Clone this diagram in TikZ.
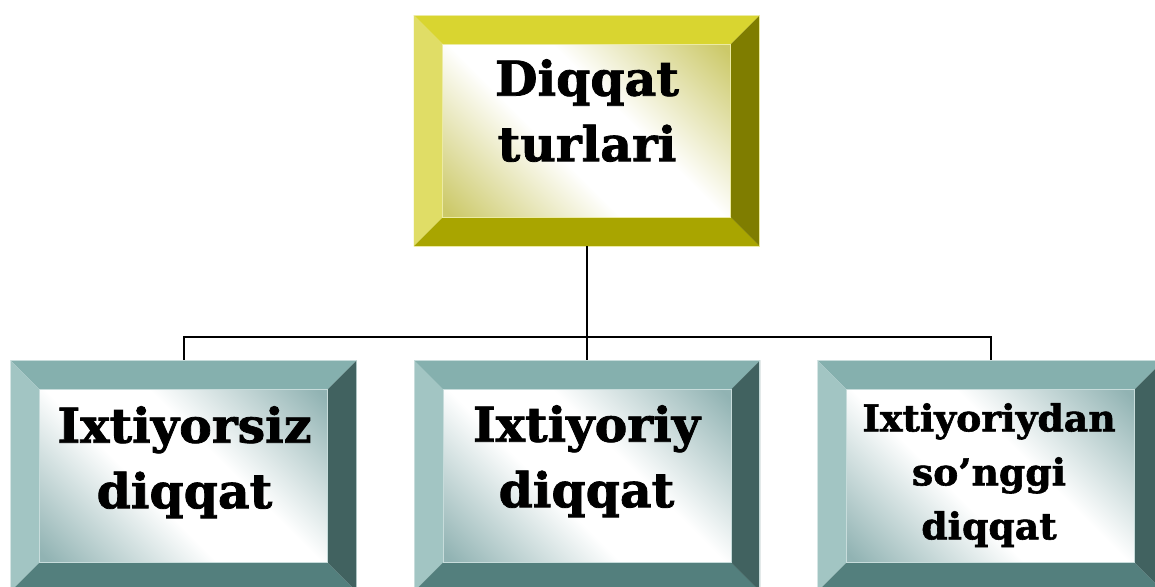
\documentclass[tikz,border=0pt]{standalone}
\usepackage{fontspec}
\setmainfont{DejaVu Serif}[BoldFeatures={FakeBold=1.6,FakeStretch=1.02}]
\definecolor{yTop}{RGB}{217,213,48}
\definecolor{yLeft}{RGB}{224,221,102}
\definecolor{yBot}{RGB}{169,165,0}
\definecolor{yRight}{RGB}{127,125,0}
\definecolor{yTint}{RGB}{204,201,105}
\definecolor{tTop}{RGB}{133,176,174}
\definecolor{tLeft}{RGB}{162,197,195}
\definecolor{tBot}{RGB}{83,127,125}
\definecolor{tRight}{RGB}{65,98,96}
\definecolor{tTint}{RGB}{145,179,179}
\pgfdeclareverticalshading{yface}{100bp}{color(0bp)=(yTint); color(16bp)=(yTint); color(42bp)=(white); color(58bp)=(white); color(84bp)=(yTint); color(100bp)=(yTint)}
\pgfdeclareverticalshading{tface}{100bp}{color(0bp)=(tTint); color(16bp)=(tTint); color(42bp)=(white); color(58bp)=(white); color(84bp)=(tTint); color(100bp)=(tTint)}
\tikzset{
  bevelbox/.style n args={5}{
    rectangle, minimum width=346pt, minimum height=231pt, inner sep=0pt, outer sep=0pt,
    path picture={
      \path (path picture bounding box.north west) coordinate (pNW)
            (path picture bounding box.north east) coordinate (pNE)
            (path picture bounding box.south west) coordinate (pSW)
            (path picture bounding box.south east) coordinate (pSE);
      \fill[#1] (pNW) -- (pNE) -- ([shift={(-29,-29)}]pNE) -- ([shift={(29,-29)}]pNW) -- cycle;
      \fill[#2] (pNW) -- ([shift={(29,-29)}]pNW) -- ([shift={(29,29)}]pSW) -- (pSW) -- cycle;
      \fill[#3] (pSW) -- ([shift={(29,29)}]pSW) -- ([shift={(-29,29)}]pSE) -- (pSE) -- cycle;
      \fill[#4] (pSE) -- ([shift={(-29,29)}]pSE) -- ([shift={(-29,-29)}]pNE) -- (pNE) -- cycle;
      \shade[shading=#5, shading angle=-45]
            ([shift={(29,-29)}]pNW) rectangle ([shift={(-29,29)}]pSE);
      \draw[#2!60!white, line width=0.8pt] ([shift={(29,-29)}]pNW) rectangle ([shift={(-29,29)}]pSE);
      \draw[#2!60!white, line width=1.2pt] (pNW) rectangle (pSE);
    }
  },
  yellowbox/.style={bevelbox={yTop}{yLeft}{yBot}{yRight}{yface}},
  tealbox/.style={bevelbox={tTop}{tLeft}{tBot}{tRight}{tface}},
  bigtext/.style={font=\bfseries\fontsize{48}{65.5}\selectfont, align=center, inner sep=0pt, anchor=north},
  smalltext/.style={font=\bfseries\fontsize{37}{54}\selectfont, align=center, inner sep=0pt, anchor=north},
  conn/.style={draw=black, line width=2pt}
}
\begin{document}
\begin{tikzpicture}[x=1pt,y=1pt]
\useasboundingbox (0,0) rectangle (1155,586);
\clip (0,0) rectangle (1155,586);
\node[yellowbox] (top) at (586.75,455.25) {};
\node[tealbox] (left) at (183.5,110) {};
\node[tealbox] (mid) at (587,110) {};
\node[tealbox] (right) at (990.5,110) {};
\node[bigtext] (toptext) at (587,527) {Diqqat\\turlari};
\node[bigtext] (lefttext) at (184.5,180) {Ixtiyorsiz\\diqqat};
\node[bigtext] (midtext) at (586.5,181) {Ixtiyoriy\\diqqat};
\node[smalltext] (righttext) at (989,183) {Ixtiyoriydan\\so’nggi\\diqqat};
\draw[conn] (top.south) -- ++(0,-90.5) -| (left.north);
\draw[conn] (top.south) -- ++(0,-90.5) -| (mid.north);
\draw[conn] (top.south) -- ++(0,-90.5) -| (right.north);
\end{tikzpicture}
\end{document}
